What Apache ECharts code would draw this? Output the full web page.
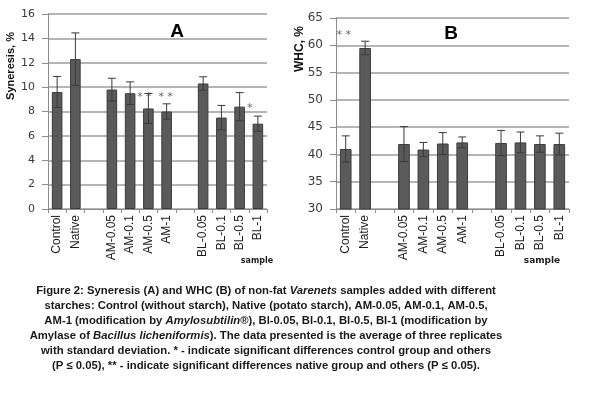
<!DOCTYPE html>
<html><head><meta charset="utf-8">
<script src="https://cdn.jsdelivr.net/npm/echarts@6/dist/echarts.min.js"></script>
<style>html,body{margin:0;padding:0;background:#fff}#c{width:591px;height:393px}</style>
</head><body><div id="c"></div>
<script>
const categories = ['Control','Native',' ','AM-0.05','AM-0.1','AM-0.5','AM-1','  ','BL-0.05','BL-0.1','BL-0.5','BL-1'];
const syneresis   = [9.6, 12.3, null, 9.8, 9.5, 8.25, 8.0, null, 10.3, 7.5, 8.4, 7.0];
const syneresisSD = [1.27, 2.15, null, 0.93, 0.93, 1.23, 0.63, null, 0.55, 1.0, 1.15, 0.62];
const whc   = [41.0, 59.5, null, 41.9, 40.9, 42.0, 42.2, null, 42.1, 42.2, 41.9, 41.9];
const whcSD = [2.4, 1.25, null, 3.2, 1.3, 2.0, 1.0, null, 2.3, 1.9, 1.5, 2.0];
const yTicksA = [0, 16, 2];
const yTicksB = [30, 65, 5];
// significance marks: [category, value level, text]
const marksA = [['AM-0.5', 9.2, '* *'], ['AM-1', 9.2, '* *'], ['BL-0.5', 8.3, '*']];
const marksB = [['Control', 61.8, '* *']];
const captionLines = [
  'Figure 2: Syneresis (A) and WHC (B) of non-fat {i|Varenets} samples added with different',
  'starches: Control (without starch), Native (potato starch), AM-0.05, AM-0.1, AM-0.5,',
  'AM-1 (modification by {i|Amylosubtilin}\u00AE), Bl-0.05, Bl-0.1, Bl-0.5, Bl-1 (modification by',
  'Amylase of {i|Bacillus licheniformis}). The data presented is the average of three replicates',
  'with standard deviation. * - indicate significant differences control group and others',
  '(P \u2264 0.05), ** - indicate significant differences native group and others (P \u2264 0.05).'
];

const chart = echarts.init(document.getElementById('c'), null, {renderer:'canvas'});
const gridCol = '#9c9c9c';
function errData(vals, sds){
  const out = [];
  vals.forEach((v,i)=>{ if(v!=null) out.push([i, v - sds[i], v + sds[i]]); });
  return out;
}
function errRender(params, api){
  const x = api.value(0);
  const lo = api.coord([x, api.value(1)]);
  const hi = api.coord([x, api.value(2)]);
  const hw = 4;
  const st = {stroke:'#3a3a3a', lineWidth:1};
  return {type:'group', children:[
    {type:'line', shape:{x1:lo[0], y1:lo[1], x2:hi[0], y2:hi[1]}, style:st},
    {type:'line', shape:{x1:hi[0]-hw, y1:hi[1], x2:hi[0]+hw, y2:hi[1]}, style:st},
    {type:'line', shape:{x1:lo[0]-hw, y1:lo[1], x2:lo[0]+hw, y2:lo[1]}, style:st}
  ]};
}
function xAxisFor(gi, fs){
  return {type:'category', gridIndex:gi, data:categories, boundaryGap:true,
    axisLine:{lineStyle:{color:'#8c8c8c', width:1}},
    axisTick:{show:true, length:4, interval:0, lineStyle:{color:'#8c8c8c'}},
    axisLabel:{interval:0, rotate:90, margin:6, fontFamily:'Liberation Sans', fontSize:fs, color:'#1e1e1e'}};
}
function yAxisFor(gi, t, fs, fam){
  return {type:'value', gridIndex:gi, min:t[0], max:t[1], interval:t[2],
    axisLine:{show:true, lineStyle:{color:'#8c8c8c'}},
    axisTick:{show:true, length:6, lineStyle:{color:'#8c8c8c'}},
    splitLine:{lineStyle:{color:gridCol, width:1.5}},
    axisLabel:{margin:13, fontFamily:fam, fontSize:fs, color:'#3a3a3a'}};
}
function markSeries(marks, xi, yi){
  return {type:'scatter', xAxisIndex:xi, yAxisIndex:yi, symbolSize:0, silent:true,
    data: marks.map(m=>({value:[m[0], m[1]], label:{show:true, formatter:m[2], offset:[m[3]||0,0]}})),
    label:{show:true, position:'inside', fontFamily:'DejaVu Sans', fontSize:11, color:'#3a3a3a'}};
}
const mA = marksA.map((m,i)=>[m[0], m[1], m[2], [-4,-1,10][i]]);
const mB = marksB.map(m=>[m[0], m[1], m[2], -2]);

const barStyle = {color:'#5a5a5a', borderColor:'#3c3c3c', borderWidth:1};
const capFont = '"Liberation Sans"';
chart.setOption({
  animation:false,
  grid:[
    {left:48, top:14, width:219, height:195},
    {left:336, top:18, width:233, height:191}
  ],
  xAxis:[xAxisFor(0, 12), xAxisFor(1, 12)],
  yAxis:[yAxisFor(0, yTicksA, 11, 'DejaVu Sans'), yAxisFor(1, yTicksB, 12, 'DejaVu Sans')],
  series:[
    {type:'bar', xAxisIndex:0, yAxisIndex:0, data:syneresis, barWidth:'58%', itemStyle:barStyle},
    {type:'custom', xAxisIndex:0, yAxisIndex:0, data:errData(syneresis, syneresisSD), renderItem:errRender, z:5},
    {type:'bar', xAxisIndex:1, yAxisIndex:1, data:whc, barWidth:'60%', itemStyle:barStyle},
    {type:'custom', xAxisIndex:1, yAxisIndex:1, data:errData(whc, whcSD), renderItem:errRender, z:5},
    markSeries(mA, 0, 0),
    markSeries(mB, 1, 1)
  ],
  graphic:[
    {type:'text', x:11, y:66, rotation:Math.PI/2, style:{text:'Syneresis, %', align:'center', verticalAlign:'middle', font:'bold 11px "Liberation Sans"', fill:'#111'}},
    {type:'text', x:300, y:49, rotation:Math.PI/2, style:{text:'WHC, %', align:'center', verticalAlign:'middle', font:'bold 12px "Liberation Sans"', fill:'#111'}},
    {type:'text', x:177, y:32, style:{text:'A', align:'center', verticalAlign:'middle', font:'bold 19px "Liberation Sans"', fill:'#000'}},
    {type:'text', x:451, y:34, style:{text:'B', align:'center', verticalAlign:'middle', font:'bold 19px "Liberation Sans"', fill:'#000'}},
    {type:'text', x:257, y:261, style:{text:'sample', align:'center', verticalAlign:'middle', font:'bold 8px "DejaVu Sans"', fill:'#222'}},
    {type:'text', x:542, y:261, style:{text:'sample', align:'center', verticalAlign:'middle', font:'bold 9px "DejaVu Sans"', fill:'#222'}}
  ].concat(captionLines.map((t,i)=>({type:'text', x:266, y:291 + i*15,
    style:{text:t, align:'center', verticalAlign:'middle', fontFamily:capFont, fontSize:11.3, fontWeight:'bold', fill:'#1a1a1a',
      rich:{i:{fontStyle:'italic', fontFamily:capFont, fontSize:11.3, fontWeight:'bold', fill:'#1a1a1a'}}}})))
});
</script></body></html>
